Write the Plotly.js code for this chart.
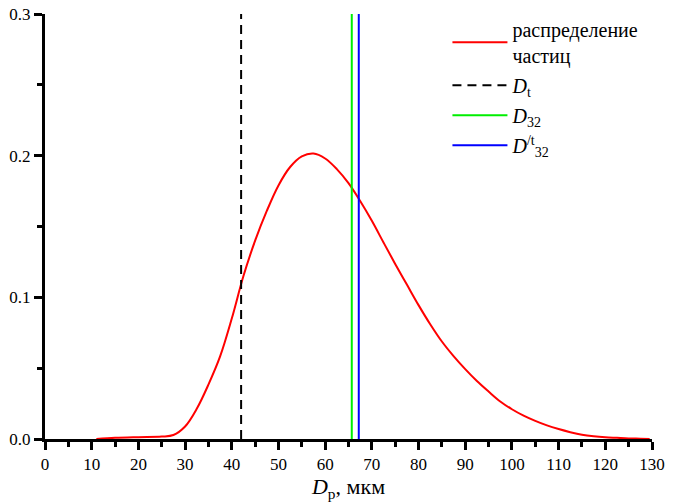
<!DOCTYPE html>
<html>
<head>
<meta charset="utf-8">
<script src="https://cdn.plot.ly/plotly-3.0.1.min.js"></script>
<style>
  body { margin: 0; background: #fff; }
  #chart { width: 682px; height: 503px; }
</style>
</head>
<body>
<div id="chart"></div>
<script>
// particle size distribution
const dp = [11, 15, 20, 25, 27.5, 30, 32.5, 35, 37.5, 40, 42.5, 45, 47.5, 50, 52.5, 55, 57.5, 60, 62.5,
  65, 67.5, 70, 72.5, 75, 77.5, 80, 82.5, 85, 87.5, 90, 92.5, 95, 97.5, 100, 102.5, 105, 107.5, 110,
  112.5, 115, 117.5, 120, 122.5, 125, 127.5, 129.5];
const dist = [0, 0.0008, 0.0013, 0.0017, 0.0028, 0.0088, 0.0213, 0.0384, 0.0583, 0.085, 0.115, 0.14,
  0.161, 0.179, 0.192, 0.1995, 0.2015, 0.198, 0.1905, 0.1806, 0.168, 0.154, 0.1387, 0.1236, 0.109,
  0.0945, 0.081, 0.0688, 0.0585, 0.0493, 0.0409, 0.0335, 0.0265, 0.021, 0.0165, 0.0128, 0.0096, 0.007,
  0.0048, 0.003, 0.0019, 0.0012, 0.0008, 0.0004, 0.0002, 0];

// characteristic diameters
const dT = 42.0;
const d32 = 65.7;
const d32t = 67.2;
const yLimits = [0, 0.3];

const names = ['распределение<br>частиц', '<i>D</i><sub>t</sub>', '<i>D</i><sub>32</sub>', '<i>D</i><sup>/t</sup><sub>32</sub>'];

const serif = '"Liberation Serif", "DejaVu Serif", serif';

const vline = (x, name, color, dash) => ({
  x: [x, x],
  y: yLimits,
  mode: 'lines',
  name: name,
  legendgroup: name,
  line: { color: color, width: 2, dash: dash }
});

const data = [
  {
    x: dp,
    y: dist,
    mode: 'lines',
    name: names[0],
    legendgroup: 'dist',
    line: { color: '#ff0000', width: 2, shape: 'spline', smoothing: 1 }
  },
  vline(dT, names[1], '#000000', '9px,6px'),
  vline(d32, names[2], '#00ee00', 'solid'),
  vline(d32t, names[3], '#0000ff', 'solid')
];

const axisCommon = {
  showline: true,
  linecolor: '#000',
  linewidth: 3,
  ticks: 'outside',
  ticklen: 8,
  tickwidth: 2.5,
  tickcolor: '#000',
  showgrid: false,
  zeroline: false,
  mirror: false,
  tickfont: { family: serif, size: 17, color: '#000' }
};

const layout = {
  width: 682,
  height: 503,
  margin: { l: 45, r: 30, t: 10, b: 64 },
  font: { family: serif, color: '#000' },
  paper_bgcolor: '#fff',
  plot_bgcolor: '#fff',
  showlegend: true,
  legend: {
    x: 0.663,
    y: 1.01,
    xanchor: 'left',
    yanchor: 'top',
    bgcolor: 'rgba(0,0,0,0)',
    font: { family: serif, size: 20, color: '#000' },
    itemwidth: 55,
    tracegroupgap: 1
  },
  xaxis: Object.assign({}, axisCommon, {
    range: [0, 130],
    dtick: 10,
    tick0: 0,
    minor: { dtick: 5, ticks: 'outside', ticklen: 5, tickwidth: 2.5, tickcolor: '#000' },
    title: { text: '<i>D</i><sub>p</sub>, мкм', font: { family: serif, size: 22, color: '#000' }, standoff: 6 }
  }),
  yaxis: Object.assign({}, axisCommon, {
    range: yLimits,
    dtick: 0.1,
    tick0: 0,
    tickformat: '.1f',
    minor: { dtick: 0.05, ticks: 'outside', ticklen: 5, tickwidth: 2.5, tickcolor: '#000' }
  })
};

Plotly.newPlot('chart', data, layout, { displayModeBar: false });
</script>
</body>
</html>
